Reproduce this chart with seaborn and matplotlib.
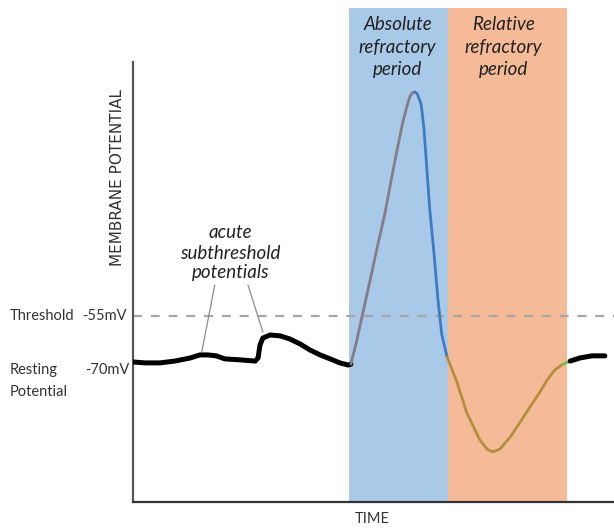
import matplotlib
matplotlib.use("Agg")
import matplotlib.pyplot as plt
import seaborn as sns
import pandas as pd

# ---- data (time in ms-like units, membrane potential in mV) ----
rest_t = [0.00, 0.25, 0.56, 0.87, 1.19, 1.39, 1.56, 1.73, 1.91, 2.22, 2.54, 2.60, 2.64,
          2.70, 2.85, 3.06, 3.26, 3.47, 3.68, 3.89, 4.10, 4.30, 4.47, 4.53]
rest_v = [-70.0, -70.3, -70.3, -69.7, -68.7, -67.7, -67.7, -68.0, -69.0, -69.3, -69.7, -68.7, -64.5,
          -62.2, -61.2, -61.5, -62.5, -64.1, -66.1, -67.7, -69.0, -70.3, -71.0, -70.7]
rise_t = [4.53, 4.64, 4.76, 4.93, 5.09, 5.24, 5.36, 5.49, 5.61, 5.70, 5.76, 5.82, 5.86]
rise_v = [-70.7, -63.8, -55.3, -43.3, -31.8, -21.4, -11.3, -0.9, 8.2, 13.7, 16.7, 17.9, 18.0]
fall_t = [5.86, 5.91, 5.99, 6.05, 6.11, 6.17, 6.26, 6.34, 6.42, 6.53]
fall_v = [18.0, 17.4, 14.1, 5.9, -7.2, -20.3, -35.0, -49.7, -61.1, -68.4]
hyper_t = [6.53, 6.74, 6.94, 7.21, 7.36, 7.48, 7.63, 7.84, 8.05, 8.25, 8.46, 8.61, 8.77, 8.94]
hyper_v = [-68.4, -76.8, -86.6, -95.4, -98.4, -99.3, -98.4, -94.5, -89.6, -84.7, -79.8, -75.9, -72.6, -70.7]
recov_t = [8.94, 9.09]
recov_v = [-70.7, -69.7]
end_t = [9.09, 9.29, 9.54, 9.81]
end_v = [-69.7, -68.7, -68.0, -68.0]

threshold_mv = -55
resting_mv = -70
abs_period = [4.49, 6.55]
rel_period = [6.55, 9.02]

segments = [
    (rest_t, rest_v, "#000000", 3.6),
    (rise_t, rise_v, "#857c86", 2.0),
    (fall_t, fall_v, "#3d7cc0", 2.0),
    (hyper_t, hyper_v, "#b38f3c", 2.0),
    (recov_t, recov_v, "#6cbf4a", 2.0),
    (end_t, end_v, "#000000", 3.6),
]

sns.set_theme(style="white")
plt.rcParams["font.family"] = ["Lato", "DejaVu Sans"]

fig = plt.figure(figsize=(6.14, 5.28), dpi=100)
ax = fig.add_axes([133 / 614, 26 / 528, 481 / 614, 494 / 528])
ax.set_xlim(0, 10.0)
ax.set_ylim(-115.65, 45.4)

ax.axvspan(abs_period[0], abs_period[1], color="#a9c9e9", lw=0, zorder=0)
ax.axvspan(rel_period[0], rel_period[1], color="#f5bb98", lw=0, zorder=0)
ax.axhline(threshold_mv, color="#a6a6a6", lw=1.6, ls=(0, (4, 4)), zorder=1)

for t, v, c, lw in segments:
    df = pd.DataFrame({"t": t, "v": v})
    sns.lineplot(data=df, x="t", y="v", ax=ax, color=c, lw=lw, sort=False,
                 estimator=None, solid_capstyle="round", solid_joinstyle="round", zorder=3)

# annotation pointer lines
ax.plot([1.70, 1.43], [-44.9, -66.7], color="#8c8c8c", lw=0.9, zorder=2)
ax.plot([2.39, 2.70], [-44.9, -60.2], color="#8c8c8c", lw=0.9, zorder=2)

hand = dict(family=["Lato", "DejaVu Sans"], style="italic", fontsize=13.5,
            color="#222222", ha="center", va="center")
for txt, y in [("acute", -27.9), ("subthreshold", -34.5), ("potentials", -40.7)]:
    ax.text(2.02, y, txt, **hand)
for txt, y in [("Absolute", 39.9), ("refractory", 32.4), ("period", 25.2)]:
    ax.text(5.50, y, txt, **hand)
for txt, y in [("Relative", 39.9), ("refractory", 32.4), ("period", 25.2)]:
    ax.text(7.70, y, txt, **hand)

lab = dict(fontsize=10.5, color="#333333", va="center", ha="left", clip_on=False)
ax.text(-2.56, threshold_mv, "Threshold", **lab)
ax.text(-1.06, threshold_mv, "-55mV", **lab)
ax.text(-2.56, -72.6, "Resting", **lab)
ax.text(-2.56, -79.8, "Potential", **lab)
ax.text(-1.00, -72.6, "-70mV", **lab)

ax.text(-0.33, -10.0, "MEMBRANE POTENTIAL", rotation=90, ha="center", va="center",
        fontsize=11, color="#333333", family=["DejaVu Sans"], clip_on=False)
ax.text(4.97, -121.2, "TIME", ha="center", va="center", fontsize=10.5, color="#333333", clip_on=False)

ax.set_xlabel("")
ax.set_ylabel("")
ax.set_xticks([])
ax.set_yticks([])
for s in ["top", "right"]:
    ax.spines[s].set_visible(False)
ax.spines["left"].set_color("#555555")
ax.spines["left"].set_linewidth(1.6)
ax.spines["left"].set_bounds(-115.65, 27.8)
ax.spines["bottom"].set_color("#333333")
ax.spines["bottom"].set_linewidth(1.6)
ax.patch.set_alpha(0)
fig.patch.set_facecolor("white")

fig.savefig("out.png", dpi=100)
